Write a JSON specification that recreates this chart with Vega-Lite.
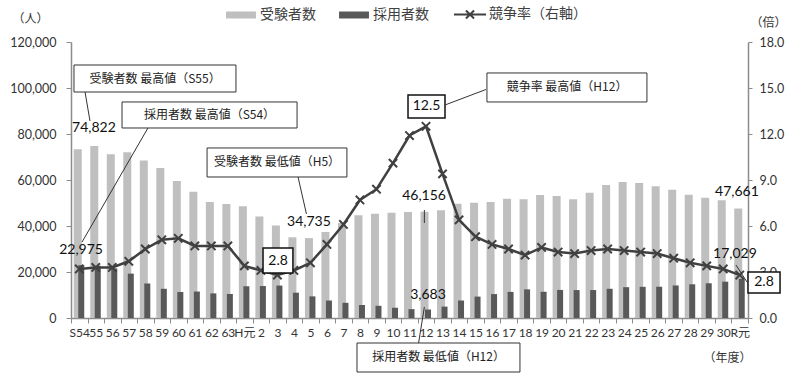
{
  "$schema": "https://vega.github.io/schema/vega-lite/v6.json",
  "width": 677,
  "height": 276,
  "autosize": {"type": "none"},
  "padding": {"left": 71, "top": 42, "right": 51, "bottom": 69},
  "background": "white",
  "config": {
    "view": {"stroke": null},
    "font": "Lato, 'Noto Sans CJK JP'",
    "axis": {"grid": false, "domainColor": "#8c8c8c", "domainWidth": 1.5, "tickColor": "#8c8c8c", "tickWidth": 1, "labelColor": "#333333", "labelFont": "Lato, 'Noto Sans CJK JP'", "titleFont": "Noto Sans CJK JP", "titleFontWeight": "normal", "titleColor": "#333333", "titleFontSize": 12}
  },
  "datasets": {
    "main": [
      {"year": "S54", "a": 73350, "h": 22975, "r": 3.2},
      {"year": "55", "a": 74822, "h": 22700, "r": 3.3},
      {"year": "56", "a": 71170, "h": 21570, "r": 3.3},
      {"year": "57", "a": 72040, "h": 19300, "r": 3.7},
      {"year": "58", "a": 68430, "h": 15000, "r": 4.5},
      {"year": "59", "a": 65210, "h": 12700, "r": 5.1},
      {"year": "60", "a": 59550, "h": 11300, "r": 5.2},
      {"year": "61", "a": 54930, "h": 11500, "r": 4.7},
      {"year": "62", "a": 50410, "h": 10700, "r": 4.7},
      {"year": "63", "a": 49540, "h": 10450, "r": 4.7},
      {"year": "H元", "a": 48540, "h": 13800, "r": 3.4},
      {"year": "2", "a": 44180, "h": 13900, "r": 3.1},
      {"year": "3", "a": 40270, "h": 14100, "r": 2.8},
      {"year": "4", "a": 35100, "h": 11000, "r": 3.1},
      {"year": "5", "a": 34735, "h": 9400, "r": 3.6},
      {"year": "6", "a": 37350, "h": 7600, "r": 4.8},
      {"year": "7", "a": 41270, "h": 6600, "r": 6.1},
      {"year": "8", "a": 44620, "h": 5650, "r": 7.7},
      {"year": "9", "a": 45360, "h": 5300, "r": 8.4},
      {"year": "10", "a": 45790, "h": 4450, "r": 10.1},
      {"year": "11", "a": 46060, "h": 3850, "r": 11.9},
      {"year": "12", "a": 46156, "h": 3683, "r": 12.5},
      {"year": "13", "a": 46800, "h": 4950, "r": 9.4},
      {"year": "14", "a": 49710, "h": 7600, "r": 6.4},
      {"year": "15", "a": 50150, "h": 9300, "r": 5.3},
      {"year": "16", "a": 50410, "h": 10400, "r": 4.8},
      {"year": "17", "a": 51890, "h": 11350, "r": 4.5},
      {"year": "18", "a": 51580, "h": 12450, "r": 4.1},
      {"year": "19", "a": 53460, "h": 11400, "r": 4.6},
      {"year": "20", "a": 53020, "h": 12200, "r": 4.3},
      {"year": "21", "a": 51580, "h": 12150, "r": 4.2},
      {"year": "22", "a": 54500, "h": 12150, "r": 4.4},
      {"year": "23", "a": 57810, "h": 12700, "r": 4.5},
      {"year": "24", "a": 59110, "h": 13400, "r": 4.4},
      {"year": "25", "a": 58680, "h": 13550, "r": 4.3},
      {"year": "26", "a": 57240, "h": 13600, "r": 4.2},
      {"year": "27", "a": 55810, "h": 14150, "r": 3.9},
      {"year": "28", "a": 53630, "h": 14650, "r": 3.6},
      {"year": "29", "a": 52320, "h": 15100, "r": 3.4},
      {"year": "30", "a": 51150, "h": 15800, "r": 3.2},
      {"year": "R元", "a": 47661, "h": 17029, "r": 2.8}
    ],
    "thinBoxes": [
      {"x1": 0.18, "x2": 9.99, "y1": 110000, "y2": 98260},
      {"x1": 3.09, "x2": 13.69, "y1": 93920, "y2": 82610},
      {"x1": 8.24, "x2": 16.71, "y1": 73920, "y2": 61310},
      {"x1": 25.19, "x2": 34.88, "y1": 106530, "y2": 93920},
      {"x1": 17.32, "x2": 27.19, "y1": -10870, "y2": -23480}
    ],
    "thickBoxes": [
      {"x1": 11.63, "x2": 13.44, "y1": 30440, "y2": 19570},
      {"x1": 20.41, "x2": 22.65, "y1": 96960, "y2": 86960},
      {"x1": 41.0, "x2": 42.94, "y1": 20000, "y2": 10870}
    ],
    "links": [
      {"x1": 0.85, "x2": 1.15, "y1": 98260, "y2": 85660},
      {"x1": 4.66, "x2": 0.67, "y1": 82610, "y2": 33040},
      {"x1": 13.75, "x2": 14.26, "y1": 61310, "y2": 45220},
      {"x1": 25.13, "x2": 22.65, "y1": 99350, "y2": 92610},
      {"x1": 21.4, "x2": 21.4, "y1": 46960, "y2": 41310},
      {"x1": 21.4, "x2": 21.05, "y1": 4780, "y2": -10870},
      {"x1": 40.27, "x2": 40.94, "y1": 23040, "y2": 15650},
      {"x1": 40.94, "x2": 41.0, "y1": 15650, "y2": 15650}
    ],
    "boxTexts": [
      {"x": 5.09, "y": 104130, "t": "受験者数 最高値（S55）"},
      {"x": 8.39, "y": 88260, "t": "採用者数 最高値（S54）"},
      {"x": 12.48, "y": 67610, "t": "受験者数 最低値（H5）"},
      {"x": 30.04, "y": 100220, "t": "競争率 最高値（H12）"},
      {"x": 22.26, "y": -17170, "t": "採用者数 最低値（H12）"}
    ],
    "numTexts": [
      {"x": 1.39, "y": 82610, "t": "74,822"},
      {"x": 0.61, "y": 29570, "t": "22,975"},
      {"x": 14.41, "y": 41740, "t": "34,735"},
      {"x": 21.38, "y": 53050, "t": "46,156"},
      {"x": 21.62, "y": 10000, "t": "3,683"},
      {"x": 40.33, "y": 54790, "t": "47,661"},
      {"x": 40.21, "y": 27830, "t": "17,029"},
      {"x": 21.53, "y": 91960, "t": "12.5"},
      {"x": 12.54, "y": 25000, "t": "2.8"},
      {"x": 41.97, "y": 15440, "t": "2.8"}
    ],
    "legendItems": [
      {"s": "受験者数"},
      {"s": "採用者数"},
      {"s": "競争率（右軸）"}
    ]
  },
  "layer": [
    {
      "data": {"name": "main"},
      "encoding": {
        "x": {
          "field": "year", "type": "nominal",
          "scale": {"domain": ["S54","55","56","57","58","59","60","61","62","63","H元","2","3","4","5","6","7","8","9","10","11","12","13","14","15","16","17","18","19","20","21","22","23","24","25","26","27","28","29","30","R元"], "paddingInner": 0, "paddingOuter": 0},
          "axis": {"title": "（年度）", "titleX": 656, "titleY": 39, "titleAlign": "center", "titleBaseline": "middle", "titleAngle": 0, "labelAngle": 0, "tickBand": "extent", "tickSize": 5, "labelPadding": 4, "labelFontSize": 12, "labelOverlap": false, "labelBaseline": "top"}
        }
      },
      "layer": [
        {
          "mark": {"type": "bar", "color": "#bfbfbf", "width": 8, "xOffset": -1.5},
          "encoding": {
            "y": {"field": "a", "type": "quantitative", "scale": {"domain": [0, 120000], "nice": false},
              "axis": {"values": [0, 20000, 40000, 60000, 80000, 100000, 120000], "format": ",.0f", "title": "（人）", "titleX": -41, "titleY": -24, "titleAngle": 0, "titleAlign": "center", "titleBaseline": "middle", "tickSize": 5, "labelPadding": 10, "labelFontSize": 12.5}}
          }
        },
        {
          "mark": {"type": "bar", "color": "#595959", "width": 6, "xOffset": 2},
          "encoding": {"y": {"field": "h", "type": "quantitative"}}
        }
      ]
    },
    {
      "data": {"name": "main"},
      "encoding": {
        "x": {
          "field": "year", "type": "nominal",
          "scale": {"domain": ["S54","55","56","57","58","59","60","61","62","63","H元","2","3","4","5","6","7","8","9","10","11","12","13","14","15","16","17","18","19","20","21","22","23","24","25","26","27","28","29","30","R元"], "paddingInner": 0, "paddingOuter": 0},
          "axis": null
        },
        "y": {"field": "r", "type": "quantitative", "scale": {"domain": [0, 18], "nice": false},
          "axis": {"orient": "right", "values": [0, 3, 6, 9, 12, 15, 18], "format": ".1f", "title": "（倍）", "titleX": 20, "titleY": -20, "titleAngle": 0, "titleAlign": "center", "titleBaseline": "middle", "tickSize": 4, "labelPadding": 7, "labelFontSize": 12.5}}
      },
      "layer": [
        {"mark": {"type": "line", "color": "#404040", "strokeWidth": 2.5}},
        {"mark": {"type": "point", "shape": "M-1,-1L1,1M-1,1L1,-1", "filled": false, "stroke": "#404040", "strokeWidth": 2, "size": 70, "opacity": 1}}
      ]
    },
    {
      "layer": [
        {
          "data": {"name": "thickBoxes"},
          "mark": {"type": "rect", "fill": "white", "stroke": "#111111", "strokeWidth": 1.5},
          "encoding": {
            "x": {"field": "x1", "type": "quantitative", "scale": {"domain": [0, 41], "nice": false, "zero": false}, "axis": null},
            "x2": {"field": "x2"},
            "y": {"field": "y1", "type": "quantitative", "scale": {"domain": [0, 120000], "nice": false}, "axis": null},
            "y2": {"field": "y2"}
          }
        },
        {
          "data": {"name": "thinBoxes"},
          "mark": {"type": "rect", "fill": "white", "stroke": "#333333", "strokeWidth": 1},
          "encoding": {
            "x": {"field": "x1", "type": "quantitative"},
            "x2": {"field": "x2"},
            "y": {"field": "y1", "type": "quantitative"},
            "y2": {"field": "y2"}
          }
        },
        {
          "data": {"name": "links"},
          "mark": {"type": "rule", "color": "#333333", "strokeWidth": 1},
          "encoding": {
            "x": {"field": "x1", "type": "quantitative"},
            "x2": {"field": "x2"},
            "y": {"field": "y1", "type": "quantitative"},
            "y2": {"field": "y2"}
          }
        },
        {
          "data": {"name": "boxTexts"},
          "mark": {"type": "text", "font": "Noto Sans CJK JP", "fontSize": 12, "color": "#222222", "align": "center", "baseline": "middle"},
          "encoding": {
            "x": {"field": "x", "type": "quantitative"},
            "y": {"field": "y", "type": "quantitative"},
            "text": {"field": "t"}
          }
        },
        {
          "data": {"name": "numTexts"},
          "mark": {"type": "text", "font": "Lato", "fontSize": 14, "color": "#111111", "align": "center", "baseline": "middle"},
          "encoding": {
            "x": {"field": "x", "type": "quantitative"},
            "y": {"field": "y", "type": "quantitative"},
            "text": {"field": "t"}
          }
        }
      ]
    },
    {
      "data": {"name": "legendItems"},
      "mark": {"type": "point", "opacity": 0},
      "encoding": {
        "shape": {"field": "s", "type": "nominal",
          "scale": {"domain": ["受験者数", "採用者数", "競争率（右軸）"], "range": ["M-0.93,-0.17H0.93V0.17H-0.93Z", "M-0.93,-0.17H0.93V0.17H-0.93Z", "M-1.07,0H1.07M-0.27,-0.27L0.27,0.27M-0.27,0.27L0.27,-0.27"]},
          "legend": {"title": null, "orient": "none", "legendX": 154, "legendY": -44, "direction": "horizontal", "symbolSize": 900, "symbolStrokeWidth": 2, "symbolOpacity": 1, "labelFont": "Noto Sans CJK JP", "labelFontSize": 14, "labelColor": "#404040", "labelOffset": 3, "columnPadding": 20}},
        "fill": {"field": "s", "type": "nominal", "scale": {"domain": ["受験者数", "採用者数", "競争率（右軸）"], "range": ["#bfbfbf", "#595959", "transparent"]}},
        "stroke": {"field": "s", "type": "nominal", "scale": {"domain": ["受験者数", "採用者数", "競争率（右軸）"], "range": ["#bfbfbf", "#595959", "#404040"]}}
      }
    }
  ],
  "resolve": {"scale": {"x": "independent", "y": "independent"}}
}
